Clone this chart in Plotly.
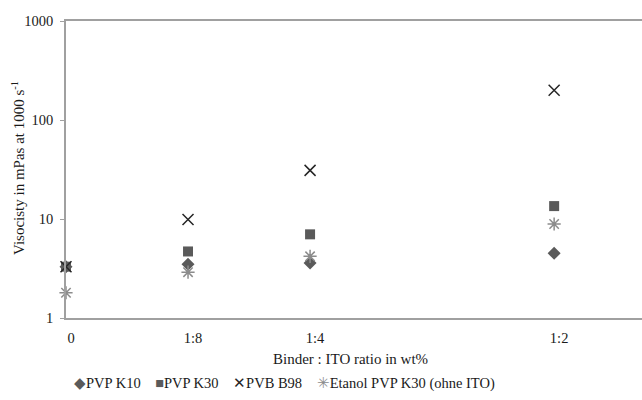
import plotly.graph_objects as go

# Data
ratios = [0, 0.125, 0.25, 0.5]
tick_labels = ["0", "1:8", "1:4", "1:2"]
series_names = ["PVP K10", "PVP K30", "PVB B98", "Etanol PVP K30 (ohne ITO)"]
pvp_k10 = [3.3, 3.5, 3.6, 4.5]
pvp_k30 = [3.3, 4.7, 7.0, 13.5]
pvb_b98 = [3.3, 9.9, 31, 200]
etanol_pvp_k30 = [1.8, 2.9, 4.2, 8.9]

FONT = "Liberation Serif"
colors = ["#5a5a5a", "#5a5a5a", "#262626", "#8c8c8c"]
symbols = ["diamond", "square", "x-thin-open", "asterisk-open"]
glyphs = ["◆", "■", "✕", "✳"]
values = [pvp_k10, pvp_k30, pvb_b98, etanol_pvp_k30]

fig = go.Figure()
for name, vals, col, sym in zip(series_names, values, colors, symbols):
    marker = dict(symbol=sym, size=10 if "open" not in sym else 11, color=col)
    if "open" in sym:
        marker["line"] = dict(color=col, width=1.5)
    fig.add_trace(go.Scatter(x=ratios, y=vals, mode="markers", name=name,
                             marker=marker, cliponaxis=False, showlegend=False))

legend_text = "&nbsp;&nbsp;&nbsp;&nbsp;".join(
    f"<span style='color:{c}'>{g}</span>{n}"
    for g, n, c in zip(glyphs, series_names, colors)
)

fig.update_layout(
    width=642, height=400,
    margin=dict(l=66, r=0, t=21, b=82),
    paper_bgcolor="white", plot_bgcolor="white",
    font=dict(family=FONT, size=14, color="#1a1a1a"),
    showlegend=False,
    xaxis=dict(range=[0, 0.59], tickvals=ratios, ticktext=tick_labels,
               showgrid=False, zeroline=False, showline=True, mirror=True,
               linecolor="#a0a0a0", linewidth=1.5, ticks="",
               ticklabelstandoff=6, ticklabelshift=5,
               tickfont=dict(family=FONT, size=14.5)),
    yaxis=dict(type="log", range=[0, 3], tickvals=[1, 10, 100, 1000],
               ticktext=["1", "10", "100", "1000"],
               showgrid=False, zeroline=False, showline=True,
               linecolor="#a0a0a0", linewidth=1.5, ticks="outside",
               ticklen=4, tickcolor="#a0a0a0", ticklabelstandoff=4,
               tickfont=dict(family=FONT, size=14.5)),
    annotations=[
        dict(text="Binder : ITO ratio in wt%", xref="paper", yref="paper",
             x=(350 - 66) / 576, y=(318 - 359) / 297, showarrow=False,
             xanchor="center", yanchor="middle",
             font=dict(family=FONT, size=15)),
        dict(text="Visocisty in mPas at 1000 s<sup>-1</sup>", xref="paper",
             yref="paper", x=(18 - 66) / 576, y=(318 - 168) / 297,
             showarrow=False, textangle=-90, xanchor="center",
             yanchor="middle", font=dict(family=FONT, size=15)),
        dict(text=legend_text, xref="paper", yref="paper",
             x=(284 - 66) / 576, y=(318 - 383) / 297, showarrow=False,
             xanchor="center", yanchor="middle",
             font=dict(family=FONT, size=14.5)),
    ],
)

fig.write_html("out.html")
